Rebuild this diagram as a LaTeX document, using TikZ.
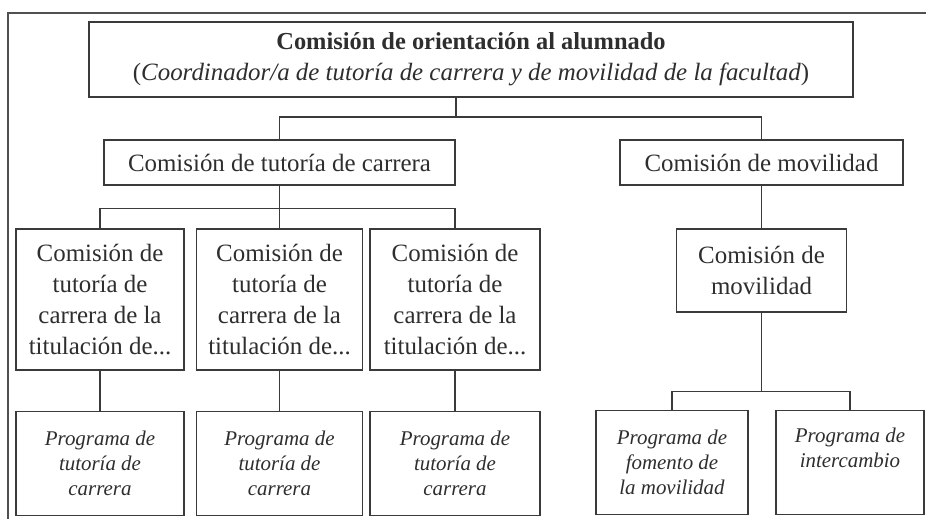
\documentclass[tikz,border=0pt]{standalone}
\usepackage{fontspec}
\setmainfont{Liberation Serif}
\usepackage{tikz}
\usetikzlibrary{positioning}
\definecolor{ink}{HTML}{2E2E2E}
\definecolor{rule}{HTML}{3A3A3A}
\definecolor{framegray}{HTML}{505050}

\begin{document}
\begin{tikzpicture}[x=1bp,y=-1bp]
\tikzstyle{comision} = [draw=rule,line width=1.3bp,text=ink,inner sep=0pt,align=center,font=\fontsize{25}{31}\selectfont]
\tikzstyle{programa} = [comision,minimum height=104bp,font=\fontsize{21}{25}\selectfont\itshape]
\tikzstyle{tie} = [draw=rule,line width=1.3bp]
\tikzstyle{marco} = [draw=framegray,line width=2.6bp]

\fill[white,use as bounding box] (0,0) rectangle (926,519);

\draw[marco] (8,519) -- (8,13) -- (926,13);

\node[comision,minimum width=764bp,minimum height=75bp] (orient) at (471,59.5) {{\fontsize{24.5}{32}\selectfont\bfseries Comisión de orientación al alumnado}\\(\textit{Coordinador/a de tutoría de carrera y de movilidad de la facultad})};

\node[comision,minimum width=351bp,minimum height=45bp] (tutoria) at (279.5,162.5) {Comisión de tutoría de carrera};
\node[comision,minimum width=283bp,minimum height=45bp] (movilidad) at (761.5,162.5) {Comisión de movilidad};

\node[comision,minimum width=168bp,minimum height=141bp] (tit1) at (100,299.5) {Comisión de\\tutoría de\\carrera de la\\titulación de...};
\node[comision,minimum width=166bp,minimum height=141bp] (tit2) at (279.5,299.5) {Comisión de\\tutoría de\\carrera de la\\titulación de...};
\node[comision,minimum width=170bp,minimum height=141bp] (tit3) at (455,299.5) {Comisión de\\tutoría de\\carrera de la\\titulación de...};
\node[comision,minimum width=170bp,minimum height=83bp] (movcom) at (761.5,270.5) {Comisión de\\movilidad};

\node[programa,minimum width=168bp,below=40bp of tit1] (prog1) {Programa de\\tutoría de\\carrera};
\node[programa,minimum width=166bp,below=40bp of tit2] (prog2) {Programa de\\tutoría de\\carrera};
\node[programa,minimum width=170bp,below=40bp of tit3] (prog3) {Programa de\\tutoría de\\carrera};
\node[programa,minimum width=152bp] (fomento) at (672,462.5) {Programa de\\fomento de\\la movilidad};
\node[programa,minimum width=148bp] (intercambio) at (850,462.5) {Programa de\\intercambio\\\vphantom{ly}};

\coordinate (j0) at (456,117);
\draw[tie] (orient.south -| j0) -- (j0);
\draw[tie] (tutoria.north) |- (j0) -| (movilidad.north);

\draw[tie] (tutoria.south) -- ++(0,23) coordinate (j1);
\draw[tie] (tit1.north) |- (j1) -| (tit3.north);
\draw[tie] (j1) -- (tit2.north);
\draw[tie] (tit1) -- (prog1);
\draw[tie] (tit2) -- (prog2);
\draw[tie] (tit3) -- (prog3);

\draw[tie] (movilidad) -- (movcom);
\draw[tie] (movcom.south) -- ++(0,79) coordinate (j2);
\draw[tie] (fomento.north) |- (j2) -| (intercambio.north);

\end{tikzpicture}
\end{document}
